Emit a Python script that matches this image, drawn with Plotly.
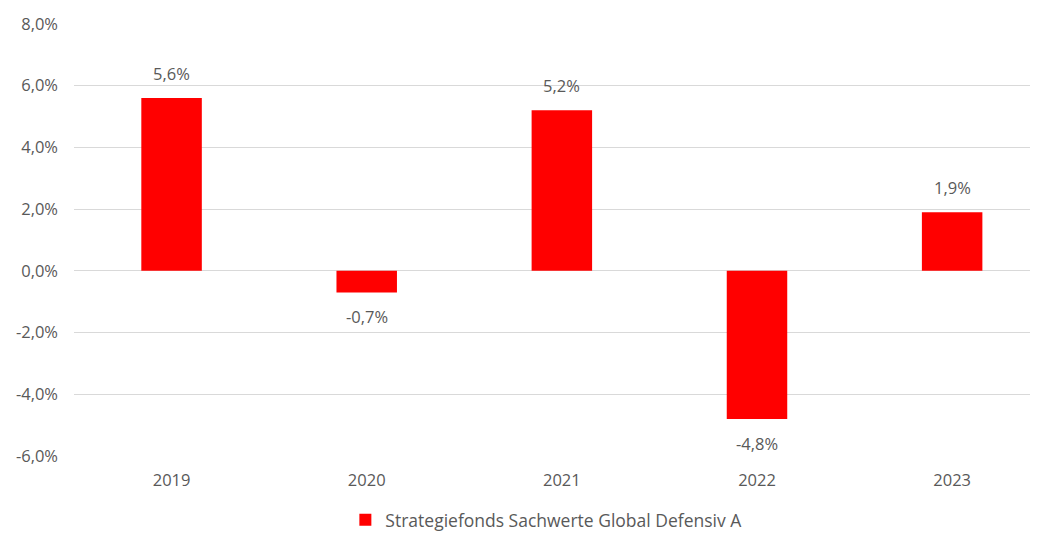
import plotly.graph_objects as go

years = ["2019", "2020", "2021", "2022", "2023"]
returns = [5.6, -0.7, 5.2, -4.8, 1.9]
series_name = "Strategiefonds Sachwerte Global Defensiv A"
y_ticks = [-6, -4, -2, 0, 2, 4, 6, 8]
y_ticklabels = ["-6,0%", "-4,0%", "-2,0%", "0,0%", "2,0%", "4,0%", "6,0%", "8,0%"]

labels = [f"{v:.1f}%".replace(".", ",") for v in returns]
xs = list(range(len(years)))

font_family = "Open Sans, Noto Sans, sans-serif"
grey = "#595959"
fsize = 16.5

fig = go.Figure()
fig.add_trace(go.Bar(
    x=xs,
    y=returns,
    name=series_name,
    marker=dict(color="#ff0000", line=dict(width=0)),
    showlegend=True,
))

for x, v, t in zip(xs, returns, labels):
    fig.add_annotation(
        x=x, y=v, text=t, showarrow=False,
        yanchor="bottom" if v >= 0 else "top",
        yshift=11 if v >= 0 else -11,
        font=dict(size=fsize, color=grey, family=font_family),
    )

fig.update_layout(
    width=1030, height=525,
    margin=dict(l=66, r=0, t=15, b=76, autoexpand=False),
    plot_bgcolor="white", paper_bgcolor="white",
    bargap=0.69,
    font=dict(family=font_family, color=grey, size=fsize),
    xaxis=dict(
        tickvals=xs, ticktext=years,
        range=[-0.5, 4.44], showgrid=False, zeroline=False,
        showline=False, ticks="", tickfont=dict(size=fsize, color=grey),
        ticklabelstandoff=11, automargin=False,
    ),
    yaxis=dict(
        range=[-6.03, 8.03], tickvals=y_ticks, ticktext=y_ticklabels,
        showgrid=True, gridcolor="#d9d9d9", gridwidth=1,
        zeroline=True, zerolinecolor="#d9d9d9", zerolinewidth=1,
        showline=False, ticks="", ticklen=0,
        tickfont=dict(size=fsize, color=grey),
        ticklabelstandoff=15, automargin=False,
    ),
    legend=dict(
        orientation="h", x=0.49, xanchor="center", y=-0.145, yanchor="middle",
        font=dict(size=17.5, color=grey),
    ),
)

fig.write_html("out.html")
